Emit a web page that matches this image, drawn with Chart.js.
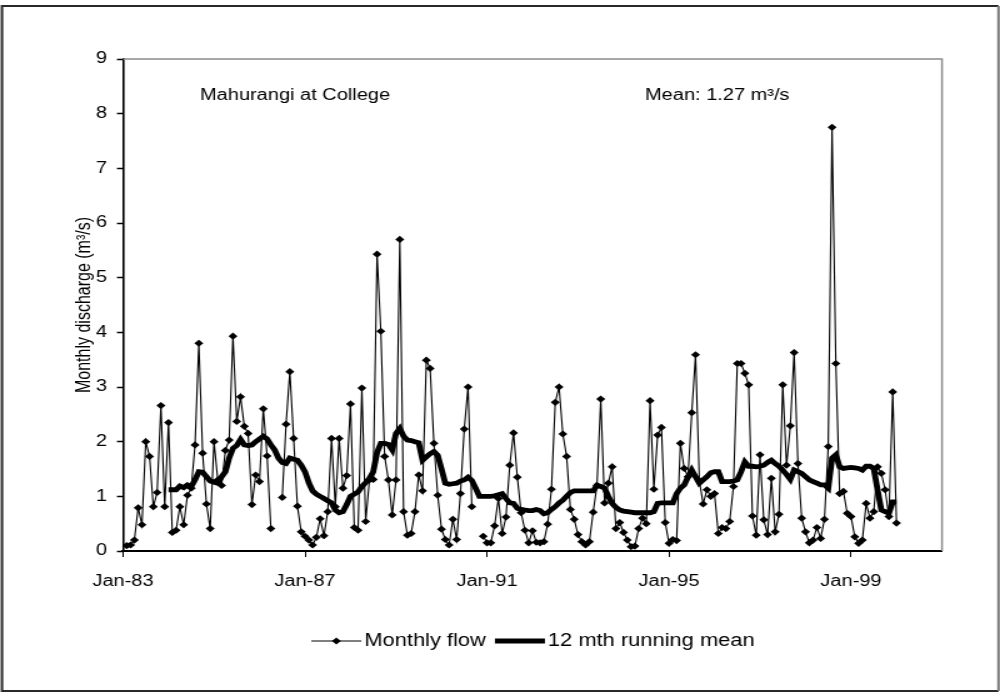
<!DOCTYPE html>
<html lang="en">
<head>
  <meta charset="UTF-8" />
  <title>Mahurangi at College</title>
  <script src="https://cdn.jsdelivr.net/npm/chart.js"></script>
  <style>
    html, body { margin: 0; padding: 0; background: #fff; }
    #flowChart { display: block; width: 1000px; height: 695px; }
  </style>
</head>
<body>
  <canvas id="flowChart" width="800" height="695" style="width:1000px;height:695px"></canvas>

  <script>
    // x axis: month positions counted from the Jan-83 tick
    const tickPositions = [0, 48, 96, 144, 192];
    const tickLabels = ["Jan-83", "Jan-87", "Jan-91", "Jan-95", "Jan-99"];
    const seriesNames = ["Monthly flow", "12 mth running mean"];

    // monthly discharge (m3/s), Jan-83 .. Dec-99, one row per year
    const monthlyFlow = [
      0.10, 0.11, 0.20, 0.79, 0.48, 2.00, 1.73, 0.81, 1.07, 2.66, 0.81, 2.35,
      0.34, 0.38, 0.81, 0.48, 1.02, 1.15, 1.94, 3.80, 1.79, 0.86, 0.41, 2.00,
      1.30, 1.20, 1.84, 2.03, 3.93, 2.37, 2.82, 2.28, 2.15, 0.85, 1.39, 1.27,
      2.60, 1.74, 0.41, null, null, 0.98, 2.32, 3.28, 2.06, 0.82, 0.35, 0.27,
      0.20, 0.11, 0.25, 0.59, 0.28, 0.72, 2.06, 0.81, 2.06, 1.15, 1.38, 2.69,
      0.43, 0.38, 2.98, 0.54, 1.30, 1.31, 5.43, 4.02, 1.73, 1.30, 0.66, 1.30,
      5.70, 0.72, 0.29, 0.32, 0.72, 1.39, 1.10, 3.49, 3.34, 1.97, 1.02, 0.40,
      0.21, 0.11, 0.58, 0.21, 1.05, 2.23, 3.00, 0.81, null, null, 0.27, 0.15,
      0.15, 0.46, 0.96, 0.32, 0.62, 1.57, 2.16, 1.35, 0.70, 0.38, 0.15, 0.37,
      0.16, 0.15, 0.17, 0.49, 1.13, 2.72, 3.00, 2.14, 1.73, 0.76, 0.58, 0.30,
      0.17, 0.11, 0.17, 0.71, 1.20, 2.78, 0.88, 1.24, 1.54, 0.41, 0.52, 0.34,
      0.20, 0.08, 0.09, 0.41, 0.60, 0.50, 2.75, 1.13, 2.12, 2.26, 0.52, 0.14,
      0.21, 0.19, 1.97, 1.51, 1.36, 2.53, 3.59, 1.29, 0.86, 1.12, 1.00, 1.05,
      0.32, 0.43, 0.41, 0.54, 1.18, 3.43, 3.43, 3.25, 3.04, 0.64, 0.29, 1.76,
      0.57, 0.30, 1.33, 0.35, 0.67, 3.04, 1.57, 2.29, 3.63, 1.60, 0.60, 0.35,
      0.15, 0.20, 0.43, 0.23, 0.58, 1.91, 7.75, 3.43, 1.05, 1.09, 0.69, 0.63,
      0.26, 0.14, 0.20, 0.87, 0.60, 0.72, 1.54, 1.42, 1.12, 0.63, 2.91, 0.51
    ];

    // 12 month running mean as plotted (starts in Dec-83)
    const runningMean = [
      null, null, null, null, null, null, null, null, null, null, null, 1.12,
      1.12, 1.12, 1.19, 1.16, 1.21, 1.18, 1.30, 1.45, 1.44, 1.36, 1.28, 1.26,
      1.24, 1.36, 1.45, 1.70, 1.88, 1.93, 2.04, 1.94, 1.93, 1.94, 2.00, 2.05,
      2.10, 2.05, 1.94, 1.85, 1.70, 1.62, 1.60, 1.70, 1.68, 1.66, 1.57, 1.45,
      1.25, 1.10, 1.04, 1.00, 0.96, 0.92, 0.88, 0.75, 0.70, 0.72, 0.85, 1.00,
      1.04, 1.08, 1.18, 1.25, 1.33, 1.45, 1.80, 1.97, 1.97, 1.95, 1.85, 2.15,
      2.24, 2.10, 2.03, 2.02, 2.00, 1.98, 1.66, 1.72, 1.78, 1.82, 1.75, 1.50,
      1.24, 1.22, 1.23, 1.24, 1.28, 1.30, 1.35, 1.29, 1.15, 1.00, 1.00, 1.00,
      1.00, 1.01, 1.03, 1.05, 0.96, 0.88, 0.87, 0.78, 0.76, 0.75, 0.74, 0.74,
      0.76, 0.74, 0.68, 0.70, 0.76, 0.81, 0.88, 0.93, 1.00, 1.07, 1.10, 1.10,
      1.10, 1.10, 1.10, 1.10, 1.20, 1.18, 1.15, 1.00, 0.87, 0.80, 0.75, 0.73,
      0.72, 0.71, 0.70, 0.70, 0.70, 0.70, 0.70, 0.72, 0.87, 0.88, 0.88, 0.88,
      0.88, 1.05, 1.15, 1.21, 1.35, 1.48, 1.36, 1.24, 1.30, 1.36, 1.43, 1.45,
      1.45, 1.27, 1.27, 1.27, 1.28, 1.30, 1.45, 1.63, 1.55, 1.55, 1.54, 1.55,
      1.57, 1.62, 1.66, 1.60, 1.55, 1.48, 1.40, 1.31, 1.48, 1.45, 1.42, 1.36,
      1.30, 1.27, 1.24, 1.21, 1.21, 1.15, 1.70, 1.76, 1.54, 1.51, 1.52, 1.53,
      1.52, 1.51, 1.48, 1.55, 1.55, 1.51, 1.12, 0.75, 0.72, 0.69, 0.90, 0.90
    ];

    // the picture is stretched sideways: draw on a narrower canvas and widen it with css
    const SX = 1.25;
    const FONT = { family: '"Liberation Sans", Arial, sans-serif', size: 16 };
    const fontCss = '16px "Liberation Sans", Arial, sans-serif';
    const legendFont = '17.5px "Liberation Sans", Arial, sans-serif';

    const flowPoints = monthlyFlow.map((v, i) => ({ x: i + 1, y: v }));
    const meanPoints = runningMean.map((v, i) => ({ x: i + 1, y: v }));

    // frame, notes and legend
    const decor = {
      id: "decor",
      beforeDraw(chart) {
        const { ctx, width, height } = chart;
        ctx.save();
        ctx.fillStyle = "#fff";
        ctx.fillRect(0, 0, width, height);
        ctx.restore();
      },
      beforeDatasetsDraw(chart) {
        const { ctx, chartArea: a } = chart;
        ctx.save();
        ctx.strokeStyle = "#8c8c8c";
        ctx.lineWidth = 1.5;
        ctx.beginPath();
        ctx.moveTo(a.left, a.top);
        ctx.lineTo(a.right, a.top);
        ctx.lineTo(a.right, a.bottom);
        ctx.stroke();
        ctx.restore();
      },
      afterDraw(chart) {
        const { ctx, width, height } = chart;
        ctx.save();
        // outer border: dark on three sides, lighter on the right
        const l = 2 / SX, r = width - 1.5 / SX, t = 6, b = height - 4;
        ctx.lineWidth = 2;
        ctx.strokeStyle = "#2a2a2a";
        ctx.beginPath();
        ctx.moveTo(r, b);
        ctx.lineTo(l, b);
        ctx.lineTo(l, t);
        ctx.lineTo(r, t);
        ctx.stroke();
        ctx.strokeStyle = "#7a7a7a";
        ctx.beginPath();
        ctx.moveTo(r, t);
        ctx.lineTo(r, b);
        ctx.stroke();

        ctx.fillStyle = "#000";
        ctx.font = fontCss;
        ctx.textBaseline = "middle";
        ctx.textAlign = "left";
        ctx.fillText("Mahurangi at College", 200 / SX, 96);
        ctx.fillText("Mean: 1.27 m³/s", 645 / SX, 96);

        // legend
        ctx.font = legendFont;
        const ly = 641;
        const sample = 50 / SX;
        const gap = 3 / SX;
        const w1 = ctx.measureText(seriesNames[0]).width;
        const w2 = ctx.measureText(seriesNames[1]).width;
        const total = sample + gap + w1 + 9 / SX + sample + gap + w2;
        let x = 533 / SX - total / 2;
        ctx.strokeStyle = "#000";
        ctx.lineWidth = 1.1;
        ctx.beginPath();
        ctx.moveTo(x, ly);
        ctx.lineTo(x + sample, ly);
        ctx.stroke();
        const cx = x + sample / 2;
        ctx.beginPath();
        ctx.moveTo(cx, ly - 3.6);
        ctx.lineTo(cx + 3.6, ly);
        ctx.lineTo(cx, ly + 3.6);
        ctx.lineTo(cx - 3.6, ly);
        ctx.closePath();
        ctx.fill();
        x += sample + gap;
        ctx.fillText(seriesNames[0], x, ly);
        x += w1 + 9 / SX;
        ctx.lineWidth = 5;
        ctx.beginPath();
        ctx.moveTo(x, ly);
        ctx.lineTo(x + sample, ly);
        ctx.stroke();
        x += sample + gap;
        ctx.fillText(seriesNames[1], x, ly);
        ctx.restore();
      }
    };

    const ctx = document.getElementById("flowChart").getContext("2d");
    new Chart(ctx, {
      type: "line",
      data: {
        datasets: [
          {
            label: seriesNames[0],
            data: flowPoints,
            borderColor: "#000",
            borderWidth: 1.1,
            pointStyle: "rectRot",
            pointRadius: 3.6,
            pointBackgroundColor: "#000",
            pointBorderColor: "#000",
            pointBorderWidth: 0,
            spanGaps: false,
            order: 2
          },
          {
            label: seriesNames[1],
            data: meanPoints,
            borderColor: "#000",
            borderWidth: 4.8,
            pointRadius: 0,
            spanGaps: false,
            order: 1
          }
        ]
      },
      options: {
        responsive: false,
        devicePixelRatio: 1,
        animation: false,
        events: [],
        elements: { line: { tension: 0 } },
        layout: { padding: { left: 0, top: 59, right: 800 - 942 / SX, bottom: 100 } },
        plugins: {
          legend: { display: false },
          tooltip: { enabled: false }
        },
        scales: {
          x: {
            type: "linear",
            min: 0,
            max: 216,
            afterFit(s) { s.height = 44; },
            afterBuildTicks(s) { s.ticks = tickPositions.map(v => ({ value: v })); },
            ticks: {
              callback: v => tickLabels[tickPositions.indexOf(v)],
              font: FONT,
              color: "#000",
              padding: 15,
              maxRotation: 0,
              autoSkip: false
            },
            grid: { drawOnChartArea: false, tickLength: 6, tickColor: "#000", tickWidth: 1 },
            border: { color: "#000", width: 2 }
          },
          y: {
            min: 0,
            max: 9,
            afterFit(s) { s.width = 123 / SX; },
            ticks: { stepSize: 1, font: FONT, color: "#000", padding: 8 },
            grid: { drawOnChartArea: false, tickLength: 6 / SX, tickColor: "#000", tickWidth: 1.5 },
            border: { color: "#000", width: 1.6 },
            title: {
              display: true,
              text: "Monthly discharge (m³/s)",
              font: FONT,
              color: "#000",
              padding: { top: 84 / SX - 9.6, bottom: 0 }
            }
          }
        }
      },
      plugins: [decor]
    });
  </script>
</body>
</html>
